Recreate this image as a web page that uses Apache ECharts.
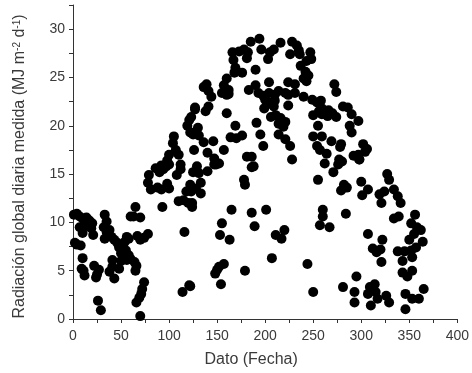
<!DOCTYPE html>
<html>
<head>
<meta charset="utf-8">
<script src="https://cdn.jsdelivr.net/npm/echarts@6/dist/echarts.min.js"></script>
<style>
html,body{margin:0;padding:0;background:#fff;}
#chart{width:472px;height:373px;}
</style>
</head>
<body>
<div id="chart"></div>
<script>
// Day of year (Dato) and measured daily global radiation (MJ m-2 d-1)
const dia = [
1,4,7,10,14,17,20,16,19,12,7,10,21,2,4,8,10,9,12,11,22,24,25,27,26,29,
33,35,32,35,38,33,40,43,46,48,52,54,56,58,55,50,41,41,48,43,56,58,60,64,65,66,38,50,
60,65,70,63,67,70,74,78,74,72,71,69,66,70,79,86,78,81,90,94,97,100,88,92,98,
108,112,125,118,122,128,93,100,110,115,120,124,116,114,121,
127,119,122,125,128,105,104,107,110,100,98,126,92,112,121,123,130,131,
123,133,124,133,129,131,140,147,152,
136,139,141,144,127,138,141,136,146,140,147,149,157,155,157,160,162,160,162,160,164,170,176,
166,173,178,182,181,167,169,168,176,169,
178,179,186,165,186,201,155,153,163,189,211,220,217,207,148,150,152,157,179,244,154,122,250,
185,194,196,205,209,203,216,228,233,235,226,236,247,248,243,190,237,242,240,245,204,224,231,243,
183,190,193,198,204,210,214,221,224,231,240,200,205,210,199,204,209,224,249,254,259,263,266,250,256,
206,211,216,221,219,214,191,195,214,221,226,198,250,254,257,181,186,188,228,264,
272,274,258,259,265,270,274,281,286,290,297,288,290,255,259,269,302,304,306,292,297,278,279,262,280,298,
255,271,276,277,298,279,282,285,300,307,301,260,260,257,267,284,
327,329,334,324,319,321,338,341,334,339,356,352,358,362,355,364,350,
307,322,312,316,320,321,338,345,352,357,343,353,343,348,353,
295,281,293,293,309,314,315,310,317,326,329,307,346,353,360,365,346
];
const radiacion = [
10.8,10.9,10.6,10.4,10.5,10.2,9.9,9.6,9.4,9.8,9.5,8.9,8.7,7.9,7.7,7.6,6.3,5.2,4.5,5.0,5.5,4.3,4.6,5.1,1.9,0.9,
10.8,10.1,9.5,9.0,9.2,8.3,8.5,8.2,7.9,7.4,7.6,8.0,8.5,8.3,7.1,6.8,6.1,5.4,5.2,4.2,6.1,6.6,6.2,5.9,5.0,5.5,4.9,6.0,
10.6,11.6,10.5,10.6,8.6,8.2,8.4,8.8,3.8,3.1,2.6,2.2,1.7,0.3,14.9,15.6,14.1,13.4,15.2,15.5,15.8,16.0,13.6,13.4,14.0,
14.9,15.5,15.2,13.2,13.9,13.5,11.6,13.5,12.2,12.3,12.0,11.6,9.0,2.8,3.5,
21.9,20.0,19.3,19.1,19.4,18.9,18.2,17.5,17.0,17.0,16.4,17.5,15.9,16.0,20.6,20.9,19.8,19.0,
13.2,13.0,12.0,14.1,15.8,15.1,15.3,16.0,16.1,
24.0,24.3,23.6,23.0,21.7,21.5,22.0,18.3,18.4,17.2,16.6,16.0,17.5,23.4,24.2,24.9,23.7,23.2,23.3,21.3,18.8,18.7,19.0,
27.6,27.7,27.9,27.6,27.0,26.8,26.0,25.5,25.5,20.0,
14.4,13.9,15.7,11.3,11.0,11.3,9.9,8.7,8.2,9.6,8.7,9.2,8.3,6.3,4.7,5.1,5.4,5.7,5.0,5.7,3.6,3.4,2.8,
28.7,29.0,27.9,27.6,27.9,26.9,28.6,28.7,28.3,27.8,27.4,27.4,27.6,26.9,26.7,25.8,26.2,25.6,24.9,25.2,24.5,24.5,24.3,24.6,
23.7,24.2,23.4,23.1,23.4,23.2,23.6,23.4,23.2,23.4,23.0,22.7,22.4,22.6,21.8,22.3,22.0,22.1,22.7,22.4,21.8,21.2,21.6,21.1,21.5,
20.9,21.1,20.8,20.4,19.9,20.2,20.3,19.1,19.1,18.6,17.9,17.9,18.9,17.9,17.5,16.8,16.8,15.8,16.5,17.1,
24.3,23.5,22.6,21.2,21.0,21.3,20.9,22.0,21.9,21.2,20.5,20.0,19.3,20.0,18.9,18.4,18.1,17.3,17.6,16.9,17.0,17.8,18.1,16.1,16.3,16.5,
14.4,15.2,16.0,16.5,16.5,13.3,13.9,13.6,14.2,13.4,12.8,11.3,10.6,9.7,9.5,10.9,
15.0,14.4,13.4,13.2,12.9,12.0,12.7,12.0,10.4,10.6,10.8,9.9,9.5,9.2,8.8,8.0,8.2,
8.8,8.2,7.3,6.9,7.2,5.9,7.0,7.0,7.1,7.4,6.0,6.4,4.8,4.4,5.0,
4.4,3.3,2.8,1.7,3.3,3.6,2.8,1.4,2.1,2.4,1.7,2.6,2.6,2.1,2.1,3.1,1.0
];
const xTicks = [0,50,100,150,200,250,300,350,400];
const yTicks = [0,5,10,15,20,25,30];

const points = dia.map((d,i)=>[d, radiacion[i]]);
const chart = echarts.init(document.getElementById('chart'), null, {renderer:'canvas'});
const FONT = 'Liberation Sans, Arial, sans-serif';
const TXT = '#3a3a3a';
chart.setOption({
  animation:false,
  backgroundColor:'#fff',
  grid:{left:73, right:12, top:5, bottom:54},
  xAxis:{
    type:'value', min:xTicks[0], max:xTicks[xTicks.length-1], interval:50,
    name:'Dato (Fecha)', nameLocation:'middle', nameGap:33,
    nameTextStyle:{color:TXT, fontFamily:FONT, fontSize:16, padding:[0,28,0,0]},
    axisLine:{show:true, lineStyle:{color:'#333', width:1}},
    axisTick:{show:true, length:4, lineStyle:{color:'#333'}},
    minorTick:{show:true, splitNumber:2, length:4, lineStyle:{color:'#333'}},
    splitLine:{show:false},
    axisLabel:{margin:10, color:TXT, fontFamily:FONT, fontSize:14}
  },
  yAxis:{
    type:'value', min:0, max:32.5, interval:5,
    name:'Radiación global diaria medida (MJ m{sup|-2} d{sup|-1})',
    nameLocation:'middle', nameGap:45, nameRotate:90,
    nameTextStyle:{color:TXT, fontFamily:FONT, fontSize:16, padding:[0,9,0,0],
      rich:{sup:{fontSize:10, color:TXT, fontFamily:FONT, verticalAlign:'top', lineHeight:12, padding:[0,0,8,0]}}},
    axisLine:{show:true, lineStyle:{color:'#333', width:1}},
    axisTick:{show:true, length:4, lineStyle:{color:'#333'}},
    minorTick:{show:true, splitNumber:2, length:4, lineStyle:{color:'#333'}},
    splitLine:{show:false},
    axisLabel:{margin:8, color:TXT, fontFamily:FONT, fontSize:14,
      formatter:v=> (yTicks.indexOf(v)>=0 ? String(v) : '')}
  },
  series:[{
    type:'scatter',
    data:points,
    symbol:'circle',
    symbolSize:10,
    itemStyle:{color:'#000', opacity:1},
    clip:false
  }]
});
</script>
</body>
</html>
